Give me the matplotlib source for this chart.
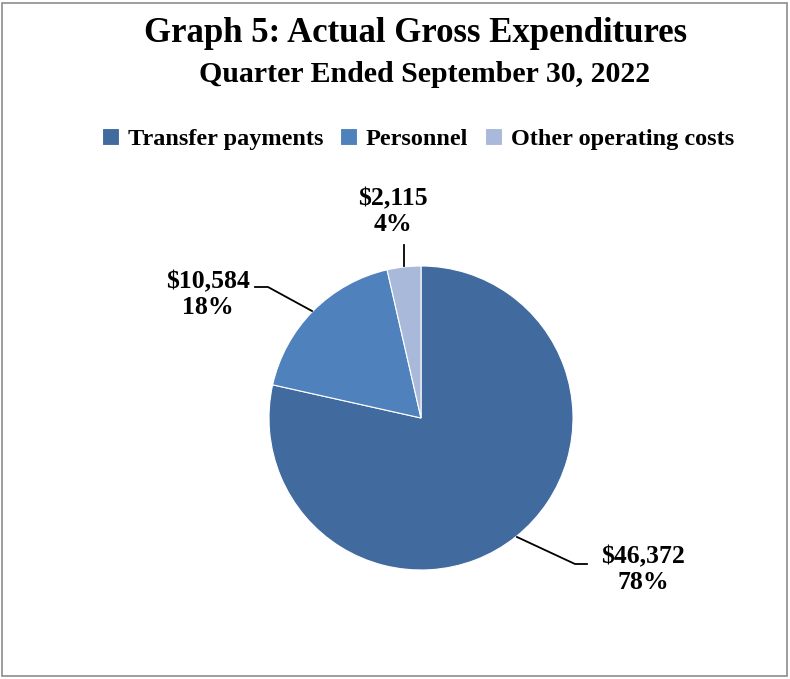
import matplotlib.pyplot as plt
from matplotlib.patches import Rectangle

# data
categories = ['Transfer payments', 'Personnel', 'Other operating costs']
amounts = [46372, 10584, 2115]
percent_labels = ['78%', '18%', '4%']
colors = ['#416A9E', '#4F81BD', '#A9B9D9']

plt.rcParams['font.family'] = ['Liberation Serif', 'DejaVu Serif']
plt.rcParams['font.weight'] = 'bold'

W, H = 790, 679
fig = plt.figure(figsize=(W / 100, H / 100), dpi=100)

# grey frame round the chart
fig.patches.append(Rectangle((2 / W, 3 / H), (W - 5) / W, (H - 6) / H,
                             transform=fig.transFigure, fill=False,
                             edgecolor='#8c8c8c', linewidth=1.2))

# pie axes: centre (421, 418) px, radius 152 px
cx, cy, R = 421, 418, 152
ax = fig.add_axes([(cx - R) / W, 1 - (cy + R) / H, 2 * R / W, 2 * R / H])
wedges, _ = ax.pie(amounts, colors=colors, startangle=90, counterclock=False,
                   radius=1, wedgeprops=dict(linewidth=0.8, edgecolor='white'))
ax.set_xlim(-1, 1)
ax.set_ylim(-1, 1)
ax.set_aspect('equal')
ax.axis('off')


def px(x, y):
    return (x - cx) / R, (cy - y) / R


# labels with leader lines (pixel positions)
label_pos = [(643, 570), (208, 295), (393, 212)]
leaders = [
    [(517, 537), (575, 564), (587, 564)],
    [(312, 311), (268, 287), (255, 287)],
    [(404, 266), (404, 245)],
]
for i in range(3):
    tx, ty = px(*label_pos[i])
    ax.text(tx, ty, f'${amounts[i]:,}\n{percent_labels[i]}', ha='center',
            va='center', fontsize=18.5, fontweight='bold', linespacing=1.15,
            clip_on=False)
    pts = [px(*p) for p in leaders[i]]
    ax.plot([p[0] for p in pts], [p[1] for p in pts], color='black',
            linewidth=1.3, clip_on=False)

# titles
fig.text(416 / W, 1 - 33 / H, 'Graph 5: Actual Gross Expenditures', ha='center',
         va='center', fontsize=25, fontweight='bold')
fig.text(425 / W, 1 - 74 / H, 'Quarter Ended September 30, 2022', ha='center',
         va='center', fontsize=21.5, fontweight='bold')

# legend
fig.legend(wedges, categories, loc='center', bbox_to_anchor=(418 / W, 1 - 139 / H),
           ncol=3, frameon=False, fontsize=17.5, handlelength=0.7,
           handleheight=0.7, handletextpad=0.35, columnspacing=0.7)

fig.savefig('out.png', dpi=100)
